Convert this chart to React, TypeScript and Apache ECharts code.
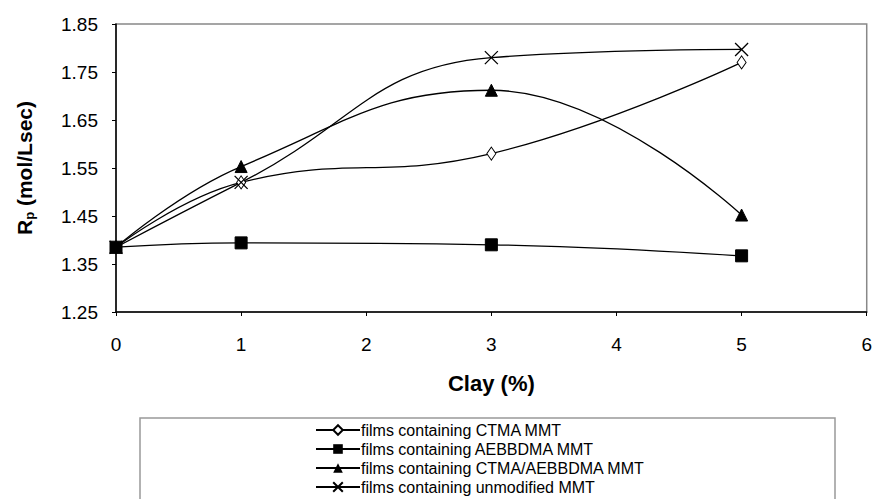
import React, { useEffect, useRef } from "react";
import * as echarts from "echarts";

const clay = [0, 1, 3, 5];
const ctma = [1.385, 1.52, 1.58, 1.77];
const aebbdma = [1.385, 1.394, 1.39, 1.367];
const ctmaAebbdma = [1.385, 1.553, 1.712, 1.452];
const unmodified = [1.385, 1.52, 1.78, 1.797];
const seriesNames = [
  "films containing CTMA MMT",
  "films containing AEBBDMA MMT",
  "films containing CTMA/AEBBDMA MMT",
  "films containing unmodified MMT",
];

const FONT = "Liberation Sans, Arial, sans-serif";

export default function App() {
  const ref = useRef<HTMLDivElement>(null);
  useEffect(() => {
    if (!ref.current) return;
    const chart = echarts.init(ref.current, undefined, { renderer: "svg" });
    const pair = (ys: number[]) => clay.map((x, i) => [x, ys[i]]);
    const base = {
      type: "line",
      smooth: 0.45,
      lineStyle: { color: "#000", width: 1.3 },
      itemStyle: { color: "#000", borderColor: "#000" },
    };
    chart.setOption({
      animation: false,
      textStyle: { fontFamily: FONT },
      grid: { left: 116, right: 7, top: 24, bottom: 187, show: true, borderColor: "#888", borderWidth: 1.5 },
      xAxis: {
        type: "value",
        min: 0,
        max: 6,
        interval: 1,
        name: "Clay (%)",
        nameLocation: "middle",
        nameGap: 60,
        nameTextStyle: { fontSize: 22, fontWeight: "bold", color: "#000", fontFamily: FONT },
        axisLine: { show: true, lineStyle: { color: "#000", width: 1.5 } },
        axisTick: { show: true, length: 4, lineStyle: { color: "#000" } },
        axisLabel: { fontSize: 19, color: "#000", margin: 23, fontFamily: FONT },
        splitLine: { show: false },
      },
      yAxis: {
        type: "value",
        min: 1.25,
        max: 1.85,
        interval: 0.1,
        name: "{a|R}{b|p}{a| (mol/Lsec)}",
        nameLocation: "middle",
        nameRotate: 90,
        nameGap: 80,
        nameTextStyle: {
          rich: {
            a: { fontSize: 21, fontWeight: "bold", color: "#000", fontFamily: FONT },
            b: { fontSize: 13, fontWeight: "bold", color: "#000", fontFamily: FONT, padding: [10, 0, 0, 0] },
          },
        },
        axisLine: { show: true, lineStyle: { color: "#000", width: 1.5 } },
        axisTick: { show: true, length: 4, lineStyle: { color: "#000" } },
        axisLabel: {
          fontSize: 19,
          color: "#000",
          margin: 18,
          fontFamily: FONT,
          formatter: (v: number) => v.toFixed(2),
        },
        splitLine: { show: false },
      },
      legend: {
        orient: "vertical",
        left: 315,
        top: 422,
        itemWidth: 44,
        itemHeight: 12,
        itemGap: 3,
        padding: 0,
        textStyle: { fontSize: 16, color: "#000", fontFamily: FONT, padding: [0, 0, 0, -4] },
        data: seriesNames,
      },
      graphic: [
        {
          type: "rect",
          shape: { x: 140, y: 418, width: 695, height: 120 },
          style: { fill: "none", stroke: "#999", lineWidth: 1.5 },
          z: -1,
        },
      ],
      series: [
        {
          ...base,
          name: seriesNames[0],
          data: pair(ctma),
          symbol: "diamond",
          symbolSize: [9, 13],
          itemStyle: { color: "#fff", borderColor: "#000", borderWidth: 1 },
        },
        {
          ...base,
          name: seriesNames[1],
          data: pair(aebbdma),
          symbol: "rect",
          symbolSize: 12,
        },
        {
          ...base,
          name: seriesNames[2],
          data: pair(ctmaAebbdma),
          symbol: "triangle",
          symbolSize: 12,
        },
        {
          ...base,
          name: seriesNames[3],
          data: pair(unmodified),
          symbol: "path://M0,0L10,10M10,0L0,10",
          symbolSize: 13,
          itemStyle: { color: "none", borderColor: "#000", borderWidth: 1.3 },
        },
      ],
    });
    return () => chart.dispose();
  }, []);
  return <div ref={ref} style={{ position: "absolute", left: 0, top: 0, width: 875, height: 499 }} />;
}
